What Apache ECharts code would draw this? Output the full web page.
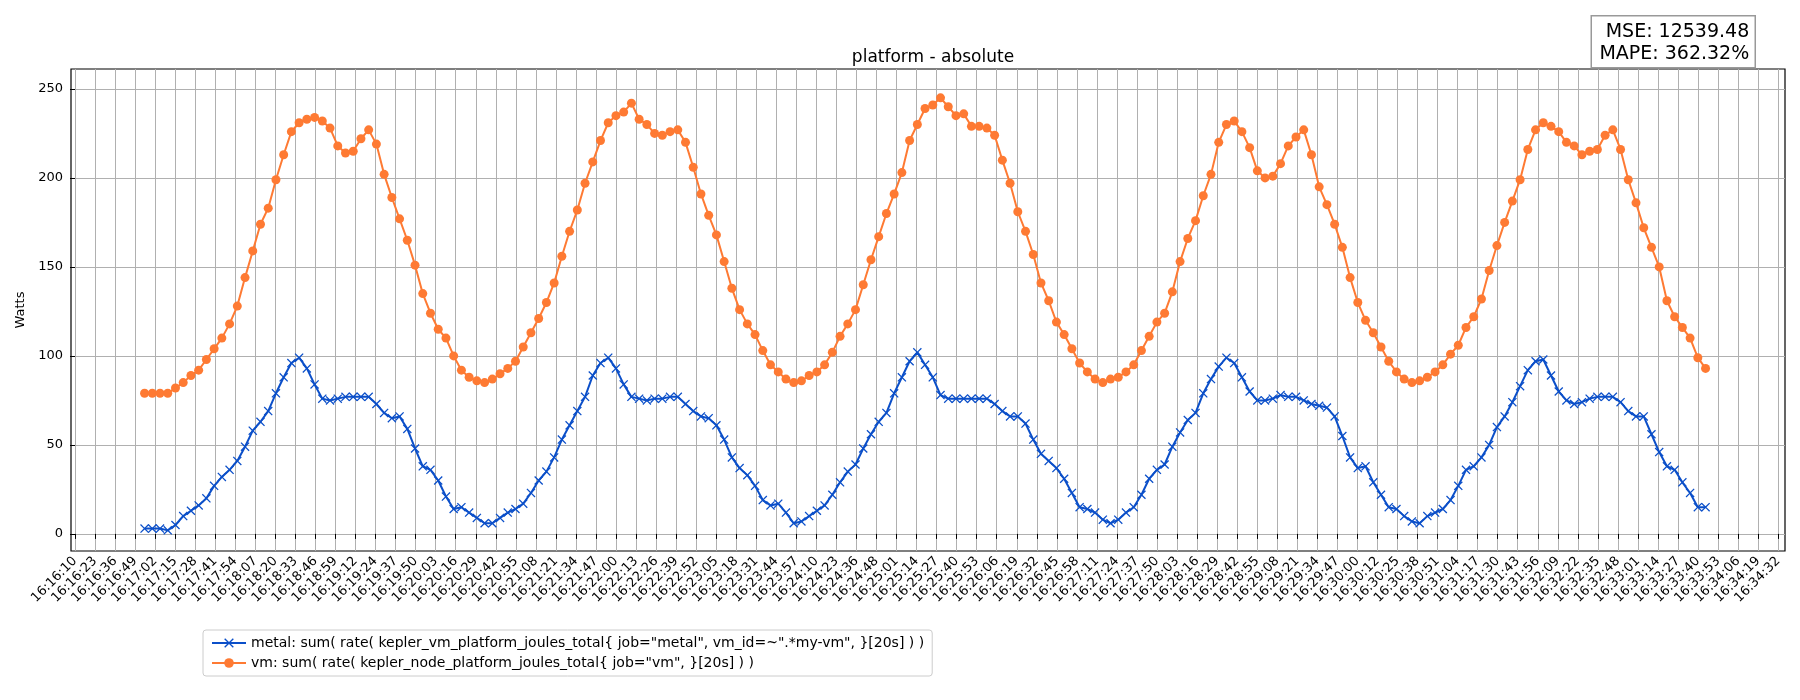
<!DOCTYPE html>
<html>
<head>
<meta charset="UTF-8">
<title>platform - absolute</title>
<script src="https://cdn.jsdelivr.net/npm/echarts@6/dist/echarts.min.js"></script>
<style>
  html, body { margin: 0; padding: 0; background: #fff; }
  #chart { width: 1800px; height: 700px; }
</style>
</head>
<body>
<div id="chart"></div>
<script>
// seconds since 16:16:10, one sample every 5 s
var startSec = 45;
var stepSec = 5;

var tickLabels = ['16:16:10','16:16:23','16:16:36','16:16:49','16:17:02','16:17:15','16:17:28','16:17:41','16:17:54',
  '16:18:07','16:18:20','16:18:33','16:18:46','16:18:59','16:19:12','16:19:24','16:19:37','16:19:50',
  '16:20:03','16:20:16','16:20:29','16:20:42','16:20:55','16:21:08','16:21:21','16:21:34','16:21:47',
  '16:22:00','16:22:13','16:22:26','16:22:39','16:22:52','16:23:05','16:23:18','16:23:31','16:23:44','16:23:57',
  '16:24:10','16:24:23','16:24:36','16:24:48','16:25:01','16:25:14','16:25:27','16:25:40','16:25:53',
  '16:26:06','16:26:19','16:26:32','16:26:45','16:26:58','16:27:11','16:27:24','16:27:37','16:27:50',
  '16:28:03','16:28:16','16:28:29','16:28:42','16:28:55','16:29:08','16:29:21','16:29:34','16:29:47',
  '16:30:00','16:30:12','16:30:25','16:30:38','16:30:51','16:31:04','16:31:17','16:31:30','16:31:43','16:31:56',
  '16:32:09','16:32:22','16:32:35','16:32:48','16:33:01','16:33:14','16:33:27','16:33:40','16:33:53',
  '16:34:06','16:34:19','16:34:32'];
var tickStep = 1102 / 85;

var metal = [3,3,3,2,5,10,13,16,20,27,32,36,41,49,58,63,69,79,88,96,99,93,84,76,75,76,77,77,77,77,
  73,68,65,66,59,48,38,36,30,21,14,15,12,9,6,6,9,12,14,17,23,30,35,43,53,61,69,77,89,96,
  99,93,84,77,76,75,76,76,77,77,73,69,66,65,61,53,43,37,33,27,19,16,17,12,6,7,10,13,16,22,
  29,35,39,48,56,63,68,79,88,97,102,95,88,78,76,76,76,76,76,76,73,69,66,66,62,53,45,41,37,31,
  23,15,14,12,8,6,8,12,15,22,31,36,39,49,57,64,68,79,87,94,99,96,88,80,75,75,76,78,77,77,
  75,73,72,71,66,55,43,37,38,29,22,15,14,10,7,6,10,12,14,19,27,36,38,43,50,60,66,74,83,92,
  97,98,89,80,75,73,74,76,77,77,77,74,69,66,66,56,46,38,36,29,23,15,15];

var vm = [79,79,79,79,82,85,89,92,98,104,110,118,128,144,159,174,183,199,213,226,231,233,234,232,228,218,214,215,222,227,
  219,202,189,177,165,151,135,124,115,110,100,92,88,86,85,87,90,93,97,105,113,121,130,141,156,170,182,197,209,221,
  231,235,237,242,233,230,225,224,226,227,220,206,191,179,168,153,138,126,118,112,103,95,91,87,85,86,89,91,95,102,
  111,118,126,140,154,167,180,191,203,221,230,239,241,245,240,235,236,229,229,228,224,210,197,181,170,157,141,131,119,112,
  104,96,91,87,85,87,88,91,95,103,111,119,124,136,153,166,176,190,202,220,230,232,226,217,204,200,201,208,218,223,
  227,213,195,185,174,161,144,130,120,113,105,97,91,87,85,86,88,91,95,101,106,116,122,132,148,162,175,187,199,216,
  227,231,229,226,220,218,213,215,216,224,227,216,199,186,172,161,150,131,122,116,110,99,93];

var metalName = 'metal: sum( rate( kepler_vm_platform_joules_total{ job="metal", vm_id=~".*my-vm", }[20s] ) )';
var vmName = 'vm: sum( rate( kepler_node_platform_joules_total{ job="vm", }[20s] ) )';

function pairs(arr) {
  return arr.map(function (v, i) { return [startSec + i * stepSec, v]; });
}

var xTicks = tickLabels.map(function (l, i) { return i * tickStep; });
var crossPath = 'path://M0,1L1,0L5,4L9,0L10,1L6,5L10,9L9,10L5,6L1,10L0,9L4,5Z';

var chart = echarts.init(document.getElementById('chart'));
chart.setOption({
  animation: false,
  backgroundColor: '#fff',
  textStyle: { fontFamily: 'DejaVu Sans' },
  title: {
    text: 'platform - absolute', left: 928, top: 44, textAlign: 'center',
    textStyle: { fontSize: 17, fontWeight: 'normal', color: '#000' }
  },
  graphic: [{
    type: 'group', right: 44, top: 15,
    children: [
      { type: 'rect', shape: { x: 0, y: 0, width: 164, height: 52 },
        style: { fill: '#fff', stroke: '#999', lineWidth: 1.5 } },
      { type: 'text', style: { x: 158, y: 5, text: 'MSE: 12539.48\nMAPE: 362.32%', align: 'right',
        font: '19px DejaVu Sans', fill: '#000', lineHeight: 22 } }
    ]
  }],
  legend: {
    orient: 'vertical', left: 203, top: 630, itemGap: 6,
    itemWidth: 34, itemHeight: 12,
    borderColor: '#ccc', borderWidth: 1, borderRadius: 3, padding: [6, 8],
    textStyle: { fontSize: 14, color: '#000' },
    data: [metalName, vmName]
  },
  grid: {
    left: 71, right: 15, top: 69, bottom: 149,
    show: true, borderColor: '#000', borderWidth: 1.2
  },
  xAxis: {
    type: 'value', min: -2.6, max: 1106.4,
    axisLine: { show: false },
    axisTick: { show: true, customValues: xTicks, length: 5, lineStyle: { color: '#000' } },
    axisLabel: {
      customValues: xTicks, rotate: 45, fontSize: 13, color: '#000', margin: 8,
      formatter: function (v) { return tickLabels[Math.round(v / tickStep)]; }
    },
    splitLine: { show: true, lineStyle: { color: '#b0b0b0', width: 1 } }
  },
  yAxis: {
    type: 'value', min: -9.6, max: 261.2,
    name: 'Watts', nameLocation: 'middle', nameGap: 44,
    nameTextStyle: { fontSize: 13, color: '#000' },
    axisLine: { show: false },
    axisTick: { show: true, customValues: [0, 50, 100, 150, 200, 250], length: 5, lineStyle: { color: '#000' } },
    axisLabel: { customValues: [0, 50, 100, 150, 200, 250], fontSize: 13, color: '#000' },
    splitLine: { show: true, lineStyle: { color: '#b0b0b0', width: 1 } }
  },
  series: [{
    name: metalName, type: 'line', data: pairs(metal),
    symbol: crossPath, symbolSize: 9,
    lineStyle: { color: '#0b4fc9', width: 2 },
    itemStyle: { color: '#0b4fc9' }
  }, {
    name: vmName, type: 'line', data: pairs(vm),
    symbol: 'circle', symbolSize: 9,
    lineStyle: { color: '#fe7a33', width: 2 },
    itemStyle: { color: '#fe7a33' }
  }]
});
window.onresize = chart.resize;
</script>
</body>
</html>
